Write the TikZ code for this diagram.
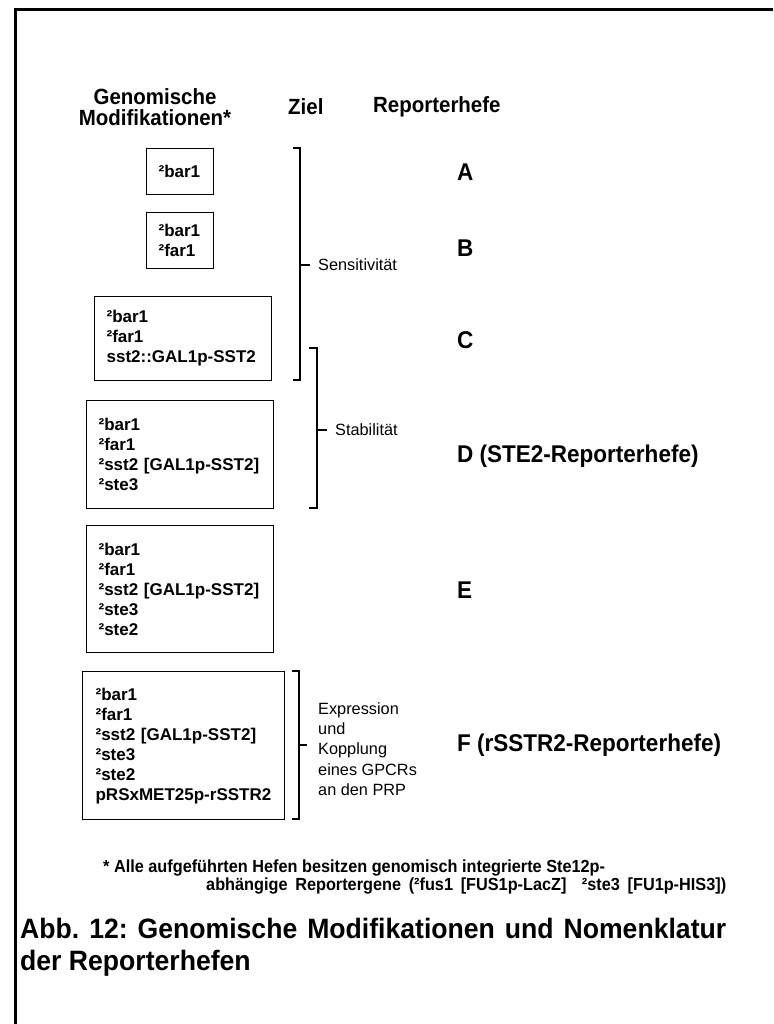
\documentclass[tikz,border=0pt]{standalone}
\usepackage{fontspec}
\setmainfont{Liberation Sans}
\newfontfamily\narrowB{Liberation Sans}[FakeStretch=0.93]
\newfontfamily\narrowC{Liberation Sans}[FakeStretch=0.95]
\frenchspacing
\begin{document}
\begin{tikzpicture}[x=1pt,y=-1pt,
  box/.style={draw,line width=1.2pt,inner xsep=12pt,inner ysep=0pt,align=left,
    font=\bfseries\fontsize{17}{20}\selectfont,anchor=north west},
  hdr/.style={font=\narrowB\bfseries\fontsize{22}{21}\selectfont,inner sep=0pt},
  lbl/.style={font=\narrowB\bfseries\fontsize{24.2}{24}\selectfont,inner sep=0pt,anchor=west},
  ziel/.style={font=\fontsize{16.3}{20.3}\selectfont,inner sep=0pt,anchor=west,align=left},
  foot/.style={font=\narrowB\bfseries\fontsize{17.5}{18}\selectfont,inner sep=0pt,anchor=west},
  capt/.style={font=\narrowC\bfseries\fontsize{28}{32}\selectfont,inner sep=0pt,anchor=north west,align=left},
  brk/.style={line width=1.2pt}]
\useasboundingbox (0,0) rectangle (773,1024);
\fill[white] (0,0) rectangle (773,1024);
\draw[line width=3pt] (15,1024) -- (15,10) -- (773,10);

% headers
\node[hdr,align=center] (hgen) at (155,107) {Genomische\\Modifikationen*};
\node[hdr,anchor=west] (hziel) at (288,107) {Ziel};
\node[hdr,anchor=west] (hrep) at (373,107) {Reporterhefe};

% boxes
\node[box,minimum width=67pt,minimum height=46pt,text width=43pt] (bA) at (146,148) {²bar1};
\node[box,minimum width=67pt,minimum height=56pt,text width=43pt] (bB) at (146,212) {²bar1\\²far1};
\node[box,minimum width=177pt,minimum height=84pt,text width=153pt] (bC) at (94,296) {²bar1\\²far1\\sst2::GAL1p-SST2};
\node[box,minimum width=187pt,minimum height=108pt,text width=163pt] (bD) at (86,400) {²bar1\\²far1\\²sst2 [GAL1p-SST2]\\²ste3};
\node[box,minimum width=187pt,minimum height=127pt,text width=163pt] (bE) at (86,525) {²bar1\\²far1\\²sst2 [GAL1p-SST2]\\²ste3\\²ste2};
\node[box,minimum width=202pt,minimum height=148pt,text width=176pt,inner xsep=13pt] (bF) at (82,671) {²bar1\\²far1\\²sst2 [GAL1p-SST2]\\²ste3\\²ste2\\pRSxMET25p-rSSTR2};

% brackets
\coordinate (s1) at (300,148); \coordinate (s2) at (300,380); \coordinate (sm) at (300,265);
\draw[brk] ([xshift=-7pt]s1) -- (s1) -- (s2) -- ([xshift=-7pt]s2);
\draw[brk] (sm) -- ([xshift=10pt]sm);
\node[ziel] (tS) at (318,265) {Sensitivität};

\coordinate (t1) at (317,348); \coordinate (t2) at (317,508); \coordinate (tm) at (317,430);
\draw[brk] ([xshift=-8pt]t1) -- (t1) -- (t2) -- ([xshift=-8pt]t2);
\draw[brk] (tm) -- ([xshift=10pt]tm);
\node[ziel] (tT) at (335,430) {Stabilität};

\coordinate (f1) at (299,671); \coordinate (f2) at (299,819); \coordinate (fm) at (299,745);
\draw[brk] ([xshift=-7pt]f1) -- (f1) -- (f2) -- ([xshift=-7pt]f2);
\draw[brk] (fm) -- ([xshift=8pt]fm);
\node[ziel] (tF) at (318,749) {Expression\\und\\Kopplung\\eines GPCRs\\an den PRP};

% reporter labels
\node[lbl] (lA) at (457,172) {A};
\node[lbl] (lB) at (457,248) {B};
\node[lbl] (lC) at (457,340) {C};
\node[lbl] (lD) at (457,456) {D (STE2-Reporterhefe)};
\node[lbl] (lE) at (457,590) {E};
\node[lbl] (lF) at (457,745) {F (rSSTR2-Reporterhefe)};

% footnote
\node[foot] (fn1) at (103,868) {* Alle aufgeführten Hefen besitzen genomisch integrierte Ste12p-};
\node[foot] (fn2) at (206,886) {\makebox[520pt][s]{abhängige Reportergene (²fus1 [FUS1p-LacZ]\ \ ²ste3 [FU1p-HIS3])}};

% caption
\node[capt] (cap) at (20,918) {\makebox[706pt][s]{Abb. 12: Genomische Modifikationen und Nomenklatur}\\der Reporterhefen};
\end{tikzpicture}
\end{document}
